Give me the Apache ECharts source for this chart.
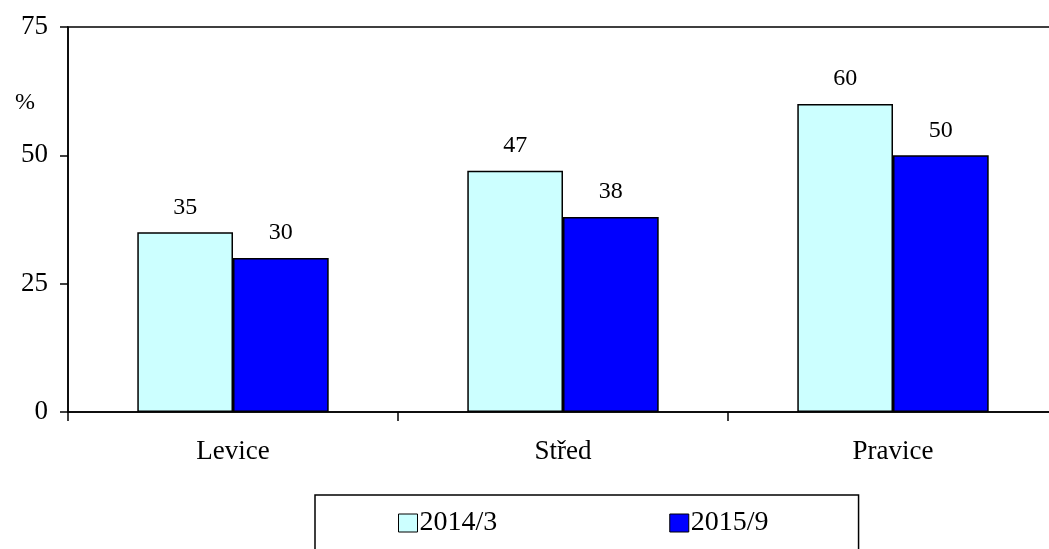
<!DOCTYPE html>
<html>
<head>
<meta charset="utf-8">
<script src="https://cdn.jsdelivr.net/npm/echarts@6/dist/echarts.min.js"></script>
<style>
html,body{margin:0;padding:0;background:#fff;}
#chart{width:1049px;height:549px;}
</style>
</head>
<body>
<div id="chart"></div>
<script>
const categories = ['Levice', 'Střed', 'Pravice'];
const series2014 = [35, 47, 60];
const series2015 = [30, 38, 50];
const seriesNames = ['2014/3', '2015/9'];
const yTicks = [0, 25, 50, 75];

const FONT = '"Liberation Serif", "Times New Roman", serif';
const chart = echarts.init(document.getElementById('chart'), null, {renderer: 'canvas'});
const option = {
  backgroundColor: '#fff',
  animation: false,
  title: {
    text: '%', left: 10, top: 86,
    textStyle: {fontFamily: FONT, fontSize: 24, fontWeight: 'normal', color: '#000'}
  },
  grid: {
    left: 68, top: 27, width: 990, height: 385,
    outerBoundsMode: 'none',
    containLabel: false,
    show: true, borderColor: '#000', borderWidth: 1.5, backgroundColor: 'transparent'
  },
  legend: {
    data: seriesNames,
    left: 315, top: 495,
    padding: [14, 90, 40, 83],
    itemGap: 172,
    itemWidth: 19, itemHeight: 18,
    icon: 'rect',
    borderColor: '#000', borderWidth: 1.5,
    itemStyle: {borderColor: '#000', borderWidth: 1},
    textStyle: {fontFamily: FONT, fontSize: 28, color: '#000', padding: [0, 0, 0, -3]}
  },
  xAxis: {
    type: 'category',
    data: categories,
    boundaryGap: true,
    axisLine: {show: true, lineStyle: {color: '#000', width: 1.5}},
    axisTick: {show: true, inside: false, length: 9, alignWithLabel: false, lineStyle: {color: '#000', width: 1.5}},
    axisLabel: {fontFamily: FONT, fontSize: 27, color: '#000', margin: 26},
    splitLine: {show: false}
  },
  yAxis: {
    type: 'value',
    min: yTicks[0], max: yTicks[yTicks.length - 1], interval: 25,
    axisLine: {show: true, lineStyle: {color: '#000', width: 1.5}},
    axisTick: {show: true, inside: false, length: 8, lineStyle: {color: '#000', width: 1.5}},
    axisLabel: {fontFamily: FONT, fontSize: 27, color: '#000', margin: 20},
    splitLine: {show: false}
  },
  series: [
    {
      name: seriesNames[0], type: 'bar', data: series2014,
      barGap: '0%', barCategoryGap: '42%',
      itemStyle: {color: '#CCFFFF', borderColor: '#000', borderWidth: 1.5},
      label: {show: true, position: 'top', distance: 13, fontFamily: FONT, fontSize: 24, color: '#000'}
    },
    {
      name: seriesNames[1], type: 'bar', data: series2015,
      barGap: '0%', barCategoryGap: '42%',
      itemStyle: {color: '#0000FF', borderColor: '#000', borderWidth: 1.5},
      label: {show: true, position: 'top', distance: 13, fontFamily: FONT, fontSize: 24, color: '#000'}
    }
  ]
};
chart.setOption(option);
</script>
</body>
</html>
